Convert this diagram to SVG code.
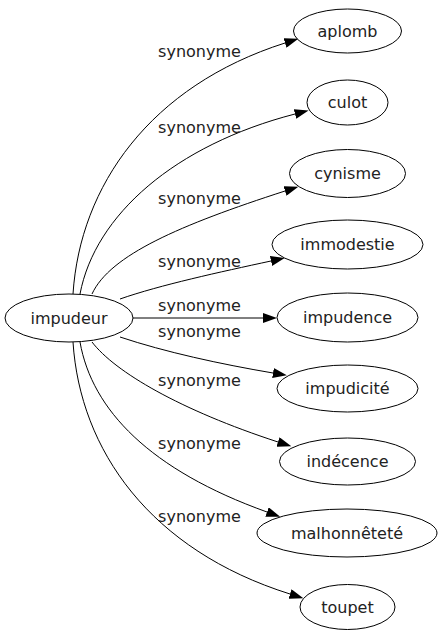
<svg xmlns="http://www.w3.org/2000/svg" width="442" height="635" viewBox="0 0 442 635">
<style>
.node ellipse{fill:none;stroke:#000;stroke-width:1}
.node text{font-family:"DejaVu Sans",sans-serif;font-size:16px;fill:#222;text-anchor:middle}
.edges path{fill:none;stroke:#000;stroke-width:1}
.edges text{font-family:"DejaVu Sans",sans-serif;font-size:16px;fill:#222;text-anchor:middle}
</style>
<defs>
<marker id="arr" markerUnits="userSpaceOnUse" viewBox="0 0 14 10" refX="0" refY="5" markerWidth="14" markerHeight="10" orient="auto">
<path d="M0,0 L14,5 L0,10 z" fill="#000"/>
</marker>
</defs>
<rect width="442" height="635" fill="#fff"/>
<g id="edges" class="edges">
<path marker-end="url(#arr)" d="M73,294 C80,186 150,86 285,43"/>
<path marker-end="url(#arr)" d="M80,294 C95,215 175,145 295,114"/>
<path marker-end="url(#arr)" d="M92,294 C110,255 180,225 285,191"/>
<path marker-end="url(#arr)" d="M120,299 C160,285 220,272 271,261"/>
<path marker-end="url(#arr)" d="M133,318 L263,318"/>
<path marker-end="url(#arr)" d="M120,337 C165,352 220,364 273,373"/>
<path marker-end="url(#arr)" d="M92,342 C115,372 180,410 278,442"/>
<path marker-end="url(#arr)" d="M80,342 C92,410 150,470 267,512"/>
<path marker-end="url(#arr)" d="M73,342 C80,450 150,550 290,594"/>
<text x="199.5" y="57">synonyme</text>
<text x="199.5" y="133">synonyme</text>
<text x="199.5" y="204">synonyme</text>
<text x="199.5" y="267">synonyme</text>
<text x="199.5" y="311">synonyme</text>
<text x="199.5" y="337">synonyme</text>
<text x="199.5" y="386">synonyme</text>
<text x="199.5" y="449">synonyme</text>
<text x="199.5" y="522">synonyme</text>
</g>
<g id="impudeur" class="node"><ellipse cx="69" cy="318" rx="64" ry="24"/><text x="69" y="323.5">impudeur</text></g>
<g id="aplomb" class="node"><ellipse cx="347.5" cy="31" rx="54" ry="22"/><text x="347.5" y="36.5">aplomb</text></g>
<g id="culot" class="node"><ellipse cx="347.5" cy="102.5" rx="40.5" ry="22.5"/><text x="347.5" y="108">culot</text></g>
<g id="cynisme" class="node"><ellipse cx="347.5" cy="173.5" rx="58" ry="24"/><text x="347.5" y="179">cynisme</text></g>
<g id="immodestie" class="node"><ellipse cx="347.5" cy="244.5" rx="75.5" ry="24.5"/><text x="347.5" y="250">immodestie</text></g>
<g id="impudence" class="node"><ellipse cx="347.5" cy="317.5" rx="70.5" ry="24.5"/><text x="347.5" y="323">impudence</text></g>
<g id="impudicite" class="node"><ellipse cx="347.5" cy="388.5" rx="70.5" ry="23.5"/><text x="347.5" y="394">impudicité</text></g>
<g id="indecence" class="node"><ellipse cx="347.5" cy="461.5" rx="68" ry="23.5"/><text x="347.5" y="467">indécence</text></g>
<g id="malhonnetete" class="node"><ellipse cx="347" cy="533" rx="90" ry="24"/><text x="347" y="538.5">malhonnêteté</text></g>
<g id="toupet" class="node"><ellipse cx="347.5" cy="607" rx="47.5" ry="22.5"/><text x="347.5" y="612.5">toupet</text></g>
</svg>
